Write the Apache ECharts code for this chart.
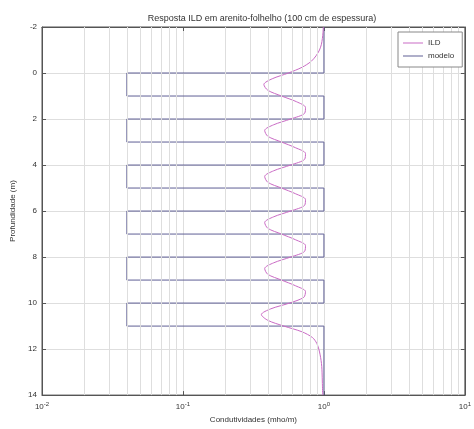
<!DOCTYPE html>
<html>
<head>
<meta charset="utf-8">
<script src="https://cdn.jsdelivr.net/npm/echarts@6/dist/echarts.min.js"></script>
<style>
  html, body { margin: 0; padding: 0; background: #fff; }
  #chart { width: 474px; height: 429px; }
</style>
</head>
<body>
<div id="chart"></div>
<script>
// Layered sand/shale model: depth of each layer boundary and conductivity between them
const modelDepth = [-2, 0, 0, 1, 1, 2, 2, 3, 3, 4, 4, 5, 5, 6, 6, 7, 7, 8, 8, 9, 9, 10, 10, 11, 11, 14];
const modelCond  = [1, 1, 0.04, 0.04, 1, 1, 0.04, 0.04, 1, 1, 0.04, 0.04, 1, 1, 0.04, 0.04, 1, 1, 0.04, 0.04, 1, 1, 0.04, 0.04, 1, 1];

// ILD tool response along depth
const ildDepth = [-2, -1.75, -1.5, -1.25, -1, -0.75, -0.5, -0.25, 0, 0.25, 0.5, 0.75, 1, 1.25, 1.5, 1.75,
  2, 2.25, 2.5, 2.75, 3, 3.25, 3.5, 3.75, 4, 4.25, 4.5, 4.75, 5, 5.25, 5.5, 5.75,
  6, 6.25, 6.5, 6.75, 7, 7.25, 7.5, 7.75, 8, 8.25, 8.5, 8.75, 9, 9.25, 9.5, 9.75,
  10, 10.25, 10.5, 10.75, 11, 11.25, 11.5, 11.75, 12, 12.25, 12.5, 12.75, 13, 13.5, 14];
const ildCond = [0.99, 0.985, 0.975, 0.96, 0.93, 0.88, 0.81, 0.70, 0.56, 0.43, 0.375, 0.40, 0.50, 0.64, 0.74, 0.73,
  0.58, 0.44, 0.38, 0.40, 0.50, 0.63, 0.74, 0.73, 0.58, 0.44, 0.38, 0.40, 0.50, 0.63, 0.74, 0.73,
  0.58, 0.44, 0.38, 0.40, 0.50, 0.63, 0.74, 0.73, 0.58, 0.44, 0.38, 0.40, 0.50, 0.63, 0.74, 0.72,
  0.57, 0.42, 0.36, 0.40, 0.52, 0.70, 0.83, 0.89, 0.92, 0.94, 0.955, 0.965, 0.97, 0.975, 0.98];

// Vertical grid lines of the log axis (2..9 within each decade)
const logGridValues = [0.02, 0.03, 0.04, 0.05, 0.06, 0.07, 0.08, 0.09,
  0.2, 0.3, 0.4, 0.5, 0.6, 0.7, 0.8, 0.9,
  2, 3, 4, 5, 6, 7, 8, 9];

const titleText = 'Resposta ILD em arenito-folhelho (100 cm de espessura)';
const xName = 'Condutividades (mho/m)';
const yName = 'Profundidade (m)';

const FONT = 'Liberation Sans';
const gridColor = '#dedede';
const axisColor = '#555';
const ildColor = '#c96ac4';
const modelColor = '#5f5f95';

const pair = (xs, ys) => xs.map((x, i) => [x, ys[i]]);

const chart = echarts.init(document.getElementById('chart'), null, { renderer: 'canvas' });

const xLabel = {
  fontFamily: FONT, color: '#333', margin: 6,
  formatter: v => '{b|10}{e|' + Math.round(Math.log10(v)) + '}',
  rich: {
    b: { fontSize: 8, fontFamily: FONT, color: '#333' },
    e: { fontSize: 6, fontFamily: FONT, color: '#333', verticalAlign: 'top', padding: [0, 0, 6, 0] }
  }
};

const lineIcon = 'path://M0,0L20,0L20,1L0,1Z';

chart.setOption({
  animation: false,
  backgroundColor: '#fff',
  title: {
    text: titleText, left: 257, top: 9, textAlign: 'center',
    textStyle: { fontFamily: FONT, fontSize: 9, fontWeight: 'normal', color: '#333' }
  },
  legend: {
    left: 398, top: 32, orient: 'vertical', itemGap: 5, z: 20,
    itemWidth: 20, itemHeight: 1,
    backgroundColor: '#fff', borderColor: '#888', borderWidth: 1,
    padding: [7, 8, 7, 5],
    textStyle: { fontFamily: FONT, fontSize: 8, color: '#333', width: 30 },
    data: [
      { name: 'ILD', icon: lineIcon, itemStyle: { color: ildColor } },
      { name: 'modelo', icon: lineIcon, itemStyle: { color: modelColor } }
    ]
  },
  grid: { left: 42, right: 3, top: 27, bottom: 30, show: true, borderColor: axisColor, borderWidth: 1 },
  xAxis: [{
    type: 'log', logBase: 10, min: 0.01, max: 10,
    name: xName, nameLocation: 'middle', nameGap: 16,
    nameTextStyle: { fontFamily: FONT, fontSize: 8, color: '#333' },
    axisLine: { onZero: false, lineStyle: { color: axisColor } },
    axisTick: { inside: true, length: 4, lineStyle: { color: axisColor } },
    axisLabel: xLabel,
    splitLine: { show: true, lineStyle: { color: gridColor, width: 1 } }
  }, {
    type: 'log', logBase: 10, min: 0.01, max: 10, position: 'top',
    axisLine: { onZero: false, lineStyle: { color: axisColor } },
    axisTick: { inside: true, length: 4, lineStyle: { color: axisColor } },
    axisLabel: { show: false }, splitLine: { show: false }
  }],
  yAxis: [{
    type: 'value', inverse: true, min: -2, max: 14, interval: 2,
    name: yName, nameLocation: 'middle', nameGap: 24,
    nameTextStyle: { fontFamily: FONT, fontSize: 8, color: '#333' },
    axisLine: { show: true, onZero: false, lineStyle: { color: axisColor } },
    axisTick: { show: true, inside: true, length: 4, lineStyle: { color: axisColor } },
    axisLabel: { fontFamily: FONT, fontSize: 8, color: '#333', margin: 5 },
    splitLine: { show: true, lineStyle: { color: gridColor, width: 1 } }
  }, {
    type: 'value', inverse: true, min: -2, max: 14, interval: 2, position: 'right',
    axisLine: { show: true, onZero: false, lineStyle: { color: axisColor } },
    axisTick: { show: true, inside: true, length: 4, lineStyle: { color: axisColor } },
    axisLabel: { show: false }, splitLine: { show: false }
  }],
  series: [{
    name: 'grid', type: 'line', data: [], silent: true,
    markLine: {
      silent: true, symbol: 'none', label: { show: false },
      lineStyle: { color: gridColor, width: 1, type: 'solid' },
      data: logGridValues.map(v => ({ xAxis: v }))
    }
  }, {
    name: 'ILD', type: 'line', data: pair(ildCond, ildDepth),
    smooth: 0.3, showSymbol: false, symbol: 'none',
    lineStyle: { color: ildColor, width: 1 }, itemStyle: { color: ildColor }, z: 4
  }, {
    name: 'modelo', type: 'line', data: pair(modelCond, modelDepth),
    showSymbol: false, symbol: 'none',
    lineStyle: { color: modelColor, width: 1 }, itemStyle: { color: modelColor }, z: 3
  }]
});
</script>
</body>
</html>
